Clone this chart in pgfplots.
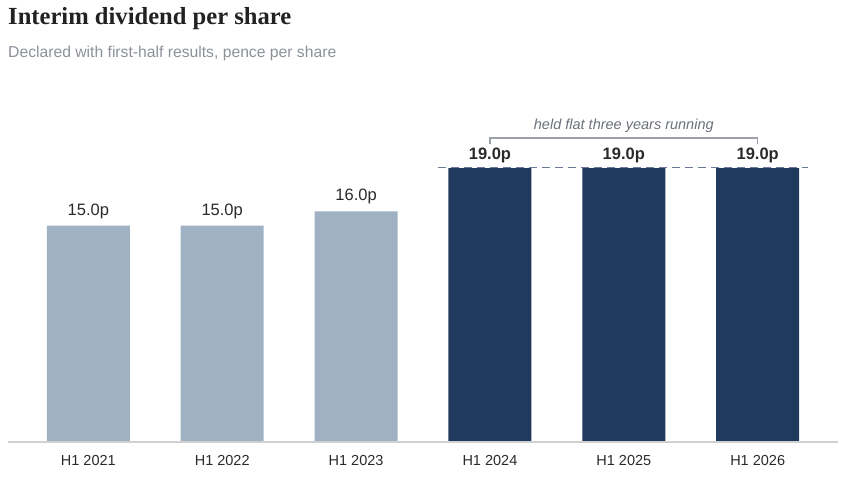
\documentclass[border=0pt]{standalone}
\usepackage{fontspec}
\setmainfont{Liberation Sans}
\newfontfamily\titlefont{Liberation Serif}
\usepackage{pgfplots}
\pgfplotsset{compat=1.18}
\definecolor{lightbar}{HTML}{A0B1C4}
\definecolor{darkbar}{HTML}{1F3A5C}
\definecolor{titlecol}{HTML}{222222}
\definecolor{subcol}{HTML}{8C9199}
\definecolor{labcol}{HTML}{2A2A2A}
\definecolor{dashcol}{HTML}{6A7A98}
\definecolor{brackcol}{HTML}{9A9FA8}
\definecolor{basecol}{HTML}{D0D0D0}
\definecolor{annocol}{HTML}{6B7079}
\begin{document}
\begin{tikzpicture}
\useasboundingbox (0,0) rectangle (841pt,-479pt);
\node[anchor=base west, inner sep=0pt, text=titlecol, font=\titlefont\bfseries\fontsize{24.6}{29}\selectfont] at (8pt,-24pt) {Interim dividend per share};
\node[anchor=base west, inner sep=0pt, text=subcol, font=\fontsize{15.7}{19}\selectfont] at (8pt,-57.5pt) {Declared with first-half results, pence per share};
\begin{axis}[
  at={(8pt,-442pt)}, anchor=south west,
  scale only axis, width=830pt, height=352pt,
  xmin=-0.6, xmax=5.6, ymin=0, ymax=24.41,
  axis line style={draw=none},
  ybar, bar width=83pt,
  xtick={0,1,2,3,4,5},
  xticklabels={H1 2021,H1 2022,H1 2023,H1 2024,H1 2025,H1 2026},
  major tick length=0pt,
  ytick=\empty,
  /pgf/number format/assume math mode=true,
  xticklabel style={font=\fontsize{14.5}{17}\selectfont, text=labcol, anchor=base, inner sep=0pt, yshift=-23pt},
  clip=false,
]
\addplot[fill=lightbar, draw=none, bar shift=0pt,
  nodes near coords={\pgfmathprintnumber[fixed,fixed zerofill,precision=1,assume math mode=true]{\pgfplotspointmeta}p},
  every node near coord/.append style={anchor=base, inner sep=0pt, yshift=10.5pt, text=labcol, font=\fontsize{16.5}{19}\selectfont}]
  coordinates {(0,15) (1,15) (2,16)};
\addplot[fill=darkbar, draw=none, bar shift=0pt,
  nodes near coords={\pgfmathprintnumber[fixed,fixed zerofill,precision=1,assume math mode=true]{\pgfplotspointmeta}p},
  every node near coord/.append style={anchor=base, inner sep=0pt, yshift=9pt, text=labcol, font=\bfseries\fontsize{16.5}{19}\selectfont}]
  coordinates {(3,19) (4,19) (5,19)};
\draw[basecol, line width=1.5pt] (axis cs:-0.6,0) -- (axis cs:5.6,0);
\draw[dashcol, line width=1.8pt, dash pattern=on 8pt off 5pt] (axis cs:2.612,19.03) -- (axis cs:5.373,19.03);
\draw[brackcol, line width=1.2pt] (axis cs:3,20.67) -- (axis cs:3,21.08) -- (axis cs:5,21.08) -- (axis cs:5,20.67);
\node[anchor=base, inner sep=0pt, text=annocol, font=\itshape\fontsize{14.5}{17}\selectfont] at (axis cs:4,21.64) {held flat three years running};
\end{axis}
\end{tikzpicture}
\end{document}
